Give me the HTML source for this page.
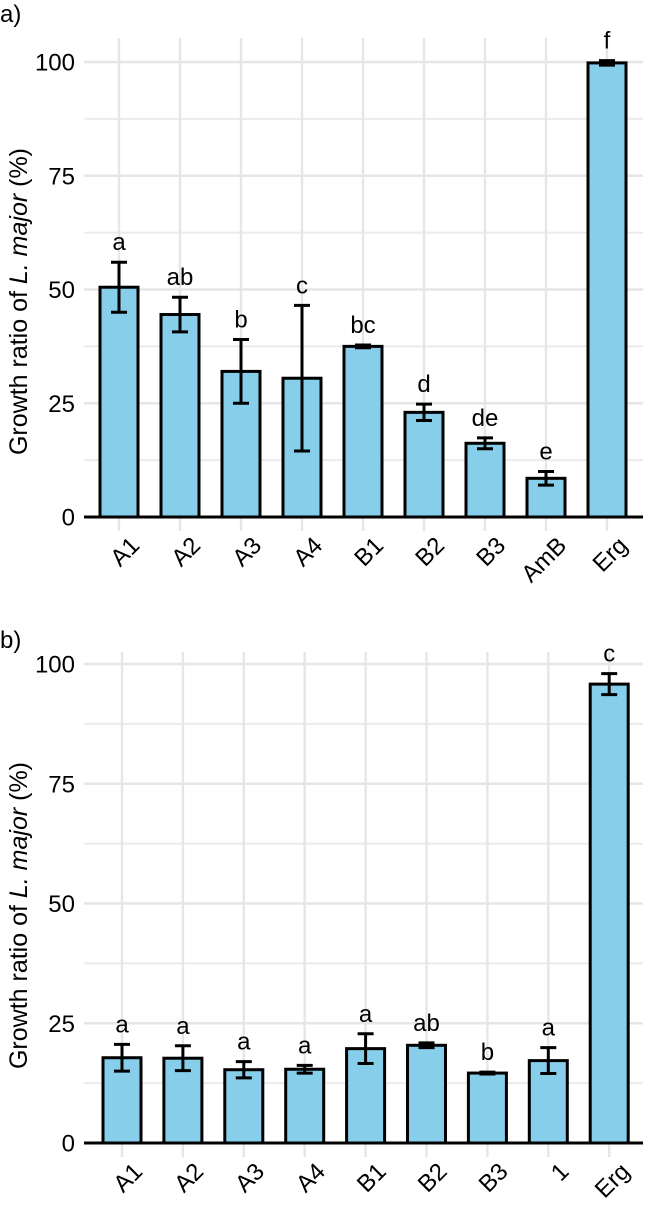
<!DOCTYPE html>
<html><head><meta charset="utf-8"><style>
body{margin:0;background:#fff;}
svg{display:block;font-family:"Liberation Sans",Arial,sans-serif;}
</style></head><body>
<svg id="chart" width="646" height="1207" viewBox="0 0 646 1207" xmlns="http://www.w3.org/2000/svg"></svg>
<script>
const catsA = ["A1","A2","A3","A4","B1","B2","B3","AmB","Erg"];
const valsA = [50.5,44.5,32,30.5,37.5,23,16.2,8.5,99.8];
const errA = [5.5,3.8,7,16,0.3,1.8,1.2,1.5,0.5];
const letA = ["a","ab","b","c","bc","d","de","e","f"];
const catsB = ["A1","A2","A3","A4","B1","B2","B3","1","Erg"];
const valsB = [17.8,17.7,15.3,15.4,19.7,20.4,14.6,17.2,95.8];
const errB = [2.8,2.6,1.7,0.8,3.1,0.5,0.2,2.7,2.2];
const letB = ["a","a","a","a","a","ab","b","a","c"];
const ticks = [0,25,50,75,100];
const minorTicks = [12.5,37.5,62.5,87.5];

const NS="http://www.w3.org/2000/svg";
const svg=document.getElementById('chart');
function mk(tag,attrs,parent){const e=document.createElementNS(NS,tag);for(const k in attrs)e.setAttribute(k,attrs[k]);(parent||svg).appendChild(e);return e;}

function panel(cfg){
  const g=mk('g',{});
  
  
  const y=v=>cfg.y0-(cfg.y0-cfg.y100)*v/100;
  const x=i=>cfg.xFirst+i*cfg.step;
  const left=84,right=643;
  const pl=mk('text',{x:0,y:cfg.labelY,'font-size':24,fill:'#000'},g);
  pl.textContent=cfg.label;
  
  
  minorTicks.forEach(t=>{const l=mk('line',{x1:left,x2:right,y1:y(t),y2:y(t),stroke:'#ebebeb','stroke-width':2},g);
    });
  ticks.forEach(t=>{const l=mk('line',{x1:left,x2:right,y1:y(t),y2:y(t),stroke:'#e6e6e6','stroke-width':2.4},g);
    
    const tx=mk('text',{x:75,y:y(t)+8.5,'font-size':24,'text-anchor':'end',fill:'#000'},g);
    tx.textContent=String(t);
    });
  cfg.cats.forEach((c,i)=>{const l=mk('line',{x1:x(i),x2:x(i),y1:cfg.gridTop,y2:cfg.y0+14,stroke:'#e6e6e6','stroke-width':2.4},g);
    });
  cfg.cats.forEach((c,i)=>{
    const v=cfg.vals[i],e=cfg.errs[i];
    const r=mk('rect',{x:x(i)-19,y:y(v),width:38,height:cfg.y0-y(v),fill:'#87CEEB',stroke:'#000','stroke-width':3},g);
    
    const eb=mk('path',{d:`M${x(i)-8},${y(v+e)}H${x(i)+8}M${x(i)},${y(v+e)}V${y(v-e)}M${x(i)-8},${y(v-e)}H${x(i)+8}`,stroke:'#000','stroke-width':3,fill:'none'},g);
    
    const lt=mk('text',{x:x(i),y:y(v+e)-12,'font-size':24,'text-anchor':'middle',fill:'#000'},g);
    lt.textContent=cfg.lets[i];
    
    const cx=x(i)+10,cy=cfg.y0+18;
    const ct=mk('text',{x:cx,y:cy,'font-size':24,'text-anchor':'end',fill:'#000',transform:`rotate(-45 ${cx} ${cy})`,'dominant-baseline':'hanging'},g);
    ct.textContent=c;
    
  });
  const ax=mk('line',{x1:left,x2:right,y1:cfg.y0,y2:cfg.y0,stroke:'#000','stroke-width':3},g);
  
  const cyT=(cfg.y0+cfg.y100)/2+12;
  const tt=mk('text',{x:27,y:cyT,'font-size':25,'text-anchor':'middle',fill:'#000',transform:`rotate(-90 27 ${cyT})`},g);
  
  tt.innerHTML='Growth ratio of <tspan font-style="italic">L. major</tspan> (%)';
}
panel({name:'panel-a',label:'a)',labelY:22,y0:517,y100:62,gridTop:38,xFirst:119,step:61,cats:catsA,vals:valsA,errs:errA,lets:letA});
panel({name:'panel-b',label:'b)',labelY:648,y0:1143,y100:664,gridTop:652,xFirst:122,step:60.9,cats:catsB,vals:valsB,errs:errB,lets:letB});
</script>
</body></html>
